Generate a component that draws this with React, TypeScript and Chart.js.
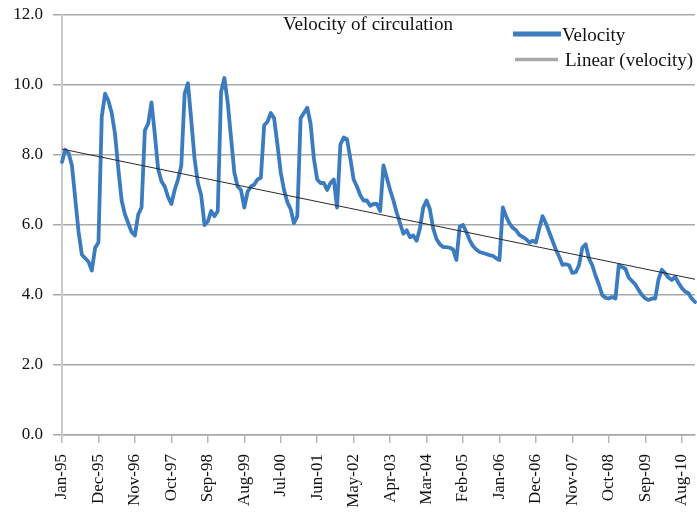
import React, { useEffect, useRef } from "react";
import { Chart, registerables } from "chart.js";

Chart.register(...registerables);

const MONTHS = ["Jan", "Feb", "Mar", "Apr", "May", "Jun", "Jul", "Aug", "Sep", "Oct", "Nov", "Dec"];
const YEARS = ["95", "96", "97", "98", "99", "00", "01", "02", "03", "04", "05", "06", "07", "08", "09", "10"];
const categories: string[] = [];
for (const y of YEARS) for (const m of MONTHS) categories.push(`${m}-${y}`);

// Monthly velocity of circulation, one row per year (Jan..Dec)
const velocity: number[] = [
  7.8, 8.15, 8.05, 7.7, 6.75, 5.8, 5.15, 5.05, 4.95, 4.7, 5.35, 5.5, // 1995
  9.1, 9.75, 9.55, 9.2, 8.6, 7.6, 6.7, 6.3, 6.05, 5.8, 5.7, 6.3, // 1996
  6.5, 8.7, 8.9, 9.5, 8.6, 7.6, 7.25, 7.1, 6.8, 6.6, 7.0, 7.3, // 1997
  7.7, 9.75, 10.05, 9.0, 7.9, 7.2, 6.85, 6.0, 6.1, 6.4, 6.25, 6.4, // 1998
  9.8, 10.2, 9.5, 8.5, 7.5, 7.1, 7.0, 6.5, 6.95, 7.1, 7.15, 7.3, // 1999
  7.35, 8.85, 8.95, 9.2, 9.05, 8.3, 7.5, 7.0, 6.65, 6.45, 6.05, 6.25, // 2000
  9.05, 9.2, 9.35, 8.9, 7.9, 7.3, 7.2, 7.2, 7.0, 7.2, 7.3, 6.5, // 2001
  8.3, 8.5, 8.45, 7.9, 7.3, 7.1, 6.85, 6.7, 6.7, 6.55, 6.6, 6.6, // 2002
  6.4, 7.7, 7.35, 7.0, 6.7, 6.35, 6.05, 5.75, 5.85, 5.65, 5.7, 5.55, // 2003
  5.9, 6.5, 6.7, 6.45, 5.9, 5.6, 5.45, 5.37, 5.37, 5.35, 5.3, 5.0, // 2004
  5.95, 6.0, 5.8, 5.57, 5.4, 5.3, 5.23, 5.2, 5.17, 5.14, 5.12, 5.05, // 2005
  5.0, 6.5, 6.25, 6.05, 5.92, 5.85, 5.72, 5.66, 5.6, 5.5, 5.55, 5.5, // 2006
  5.9, 6.25, 6.05, 5.8, 5.55, 5.3, 5.1, 4.86, 4.88, 4.85, 4.63, 4.65, // 2007
  4.85, 5.35, 5.45, 5.05, 4.85, 4.55, 4.3, 4.0, 3.92, 3.9, 3.94, 3.9, // 2008
  4.85, 4.8, 4.75, 4.5, 4.4, 4.3, 4.14, 4.0, 3.9, 3.86, 3.9, 3.9, // 2009
  4.45, 4.72, 4.62, 4.5, 4.43, 4.52, 4.35, 4.2, 4.1, 4.05, 3.9, 3.8, // 2010
];

// Linear trend end points (first and last month)
const trendEnds: number[] = [8.17, 4.45];

const yTicks: number[] = [0, 2, 4, 6, 8, 10, 12];
const LABEL_STEP = 11;

const TITLE = "Velocity of circulation";
const LEGEND_LABELS = ["Velocity", "Linear (velocity)"];

const BLUE = "#3b7bbf";
const FONT = '"Liberation Serif", "Times New Roman", serif';

const trendData: (number | null)[] = categories.map((_, i) =>
  i === 0 ? trendEnds[0] : i === categories.length - 1 ? trendEnds[1] : null
);

const overlayPlugin = {
  id: "overlayText",
  afterDraw(chart: any) {
    const ctx = chart.ctx as CanvasRenderingContext2D;
    ctx.save();
    ctx.fillStyle = "#111";
    ctx.textBaseline = "middle";
    ctx.textAlign = "left";
    ctx.font = `19px ${FONT}`;
    ctx.fillText(TITLE, 283, 25);

    ctx.lineCap = "butt";
    ctx.strokeStyle = BLUE;
    ctx.lineWidth = 5;
    ctx.beginPath();
    ctx.moveTo(513, 34);
    ctx.lineTo(561, 34);
    ctx.stroke();

    ctx.strokeStyle = "#a8a8a8";
    ctx.lineWidth = 3.5;
    ctx.beginPath();
    ctx.moveTo(515, 59.5);
    ctx.lineTo(558, 59.5);
    ctx.stroke();

    ctx.fillText(LEGEND_LABELS[0], 562, 36);
    ctx.fillText(LEGEND_LABELS[1], 565, 61);
    ctx.restore();
  },
};

export default function App() {
  const canvasRef = useRef<HTMLCanvasElement | null>(null);

  useEffect(() => {
    if (!canvasRef.current) return;
    const chart = new Chart(canvasRef.current, {
      type: "line",
      data: {
        labels: categories,
        datasets: [
          {
            label: LEGEND_LABELS[1],
            data: trendData,
            borderColor: "#2a2a2a",
            borderWidth: 1,
            pointRadius: 0,
            spanGaps: true,
            fill: false,
          },
          {
            label: LEGEND_LABELS[0],
            data: velocity,
            borderColor: BLUE,
            borderWidth: 3.8,
            pointRadius: 0,
            borderJoinStyle: "round",
            borderCapStyle: "round",
            tension: 0,
            fill: false,
          },
        ],
      },
      options: {
        responsive: false,
        animation: false,
        events: [],
        layout: { padding: { top: 15, right: 2, left: 0, bottom: 0 } },
        plugins: {
          legend: { display: false },
          title: { display: false },
          tooltip: { enabled: false },
        },
        scales: {
          x: {
            type: "category",
            offset: false,
            grid: {
              drawOnChartArea: false,
              drawTicks: true,
              tickLength: 8,
              lineWidth: 1.5,
              color: (c: any) => (c.index % LABEL_STEP === 0 ? "#b8b8b8" : "rgba(0,0,0,0)"),
              tickColor: (c: any) => (c.index % LABEL_STEP === 0 ? "#b8b8b8" : "rgba(0,0,0,0)"),
            },
            border: { display: true, color: "#a8a8a8", width: 1.5 },
            ticks: {
              autoSkip: false,
              minRotation: 90,
              maxRotation: 90,
              padding: 11,
              color: "#111",
              font: { family: FONT, size: 17 },
              callback: (_v: any, i: number) => (i % LABEL_STEP === 0 ? categories[i] : ""),
            },
            afterFit: (s: any) => {
              s.height = 80;
              s.paddingLeft = 0;
              s.paddingRight = 0;
            },
          },
          y: {
            min: yTicks[0],
            max: yTicks[yTicks.length - 1],
            afterBuildTicks: (s: any) => {
              s.ticks = yTicks.map((v) => ({ value: v }));
            },
            ticks: {
              padding: 10,
              color: "#111",
              font: { family: FONT, size: 17 },
              callback: (v: any) => Number(v).toFixed(1),
            },
            grid: { color: "#a8a8a8", lineWidth: 1.5, tickLength: 9 },
            border: { display: true, color: "#cacaca", width: 2 },
            afterFit: (s: any) => {
              s.width = 62;
              s.paddingTop = 0;
              s.paddingBottom = 0;
            },
          },
        },
      },
      plugins: [overlayPlugin],
    });
    return () => chart.destroy();
  }, []);

  return (
    <div style={{ position: "absolute", left: 0, top: 0, width: 697, height: 515, background: "#fff", overflow: "hidden" }}>
      <canvas ref={canvasRef} width={697} height={515} style={{ display: "block" }} />
    </div>
  );
}
